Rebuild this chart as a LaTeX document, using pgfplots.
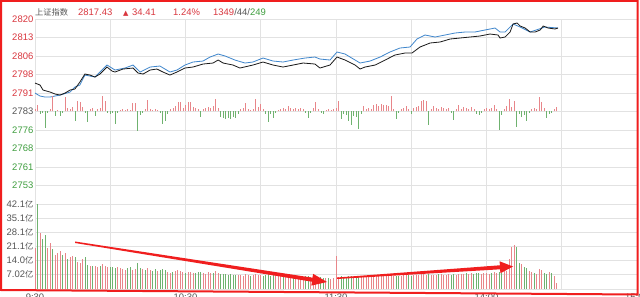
\documentclass[border=0pt]{standalone}
\usepackage{pgfplots}
\pgfplotsset{compat=1.18}
\usepackage{pgfplotstable}
\usepackage{fontspec}
\setmainfont{Liberation Sans}
\newfontfamily\cjk[Scale=0.87]{Noto Sans CJK SC}
\newfontfamily\dejavu{DejaVu Sans}
\definecolor{vred}{HTML}{E8868A}
\definecolor{vgreen}{HTML}{6FB26F}
\definecolor{tred}{HTML}{D9363E}
\definecolor{tgreen}{HTML}{3F9E3F}
\definecolor{tgray}{HTML}{555555}
\definecolor{lblue}{HTML}{3F86CC}
\definecolor{frame}{HTML}{F01E1E}
\definecolor{gridc}{HTML}{E2E2E2}

\pgfplotstableread{
t b
0 2
1 6
2 -3
3 -2
4 -17
5 -2
6 2
7 15
8 -5
9 1
10 -5
11 -2
12 14
13 3
14 2
15 4
16 -10
17 10
18 9
19 4
20 -2
21 -11
22 2
23 3
24 -5
25 2
26 3
27 15
28 10
29 -2
30 -3
31 -2
32 -13
33 -2
34 1
35 2
36 1
37 2
38 1
39 8
40 8
41 -20
42 -4
43 -2
44 2
45 11
46 2
47 1
48 2
49 1
50 -2
51 -13
52 -10
53 -3
54 2
55 3
56 5
57 9
58 9
59 3
60 6
61 9
62 9
63 4
64 3
65 2
66 -6
67 2
68 3
69 4
70 3
71 5
72 12
73 3
74 -6
75 -7
76 -8
77 -7
78 -8
79 -6
80 -7
81 -3
82 2
83 3
84 8
85 2
86 1
87 2
88 12
89 4
90 7
91 2
92 -3
93 -11
94 -3
95 -7
96 -2
97 1
98 2
99 3
100 2
101 5
102 3
103 2
104 3
105 2
106 3
107 2
108 -2
109 -7
110 -2
111 3
112 9
113 2
114 -2
115 -3
116 1
117 2
118 1
119 2
120 3
121 10
122 -8
123 -3
124 -4
125 -10
126 -14
127 -5
128 -6
129 -18
130 -3
131 5
132 2
133 3
134 2
135 6
136 7
137 5
138 7
139 6
140 6
141 5
142 15
143 2
144 -8
145 -2
146 2
147 3
148 5
149 2
150 -3
151 3
152 4
153 5
154 10
155 11
156 10
157 -14
158 2
159 5
160 3
161 2
162 4
163 3
164 2
165 3
166 -2
167 -9
168 2
169 6
170 2
171 4
172 3
173 2
174 4
175 2
176 -3
177 -4
178 -2
179 2
180 3
181 2
182 3
183 6
184 2
185 -19
186 -4
187 2
188 5
189 12
190 4
191 10
192 -16
193 -3
194 -6
195 -4
196 -10
197 -2
198 2
199 3
200 2
201 14
202 9
203 3
204 -7
205 -3
206 -2
207 2
208 4
}\breadth

\pgfplotstableread{
t v c
0 20.3 1
1 42.1 0
2 27.6 1
3 24.6 0
4 26.8 0
5 20.2 1
6 22.6 1
7 19.7 0
8 16.8 1
9 18.0 1
10 19.0 1
11 16.8 0
12 17.7 1
13 14.7 0
14 16.0 1
15 16.4 1
16 16.0 0
17 13.5 1
18 13.0 1
19 14.7 1
20 16.0 0
21 11.9 0
22 11.4 1
23 11.2 0
24 11.4 1
25 11.0 1
26 11.4 0
27 12.4 1
28 11.4 1
29 10.7 1
30 10.9 0
31 10.7 0
32 10.5 0
33 10.8 1
34 10.6 1
35 9.8 1
36 9.4 1
37 10.2 0
38 10.7 0
39 9.4 1
40 10.0 1
41 13.0 0
42 10.6 0
43 9.8 1
44 9.5 0
45 10.2 1
46 9.6 1
47 9.1 0
48 9.8 0
49 9.0 1
50 9.4 0
51 9.9 0
52 9.2 0
53 8.4 1
54 8.0 1
55 8.6 0
56 8.8 1
57 9.2 1
58 8.7 1
59 8.3 1
60 8.1 0
61 8.5 1
62 8.6 1
63 8.0 1
64 7.8 0
65 8.3 0
66 8.6 0
67 7.9 1
68 7.6 1
69 8.2 1
70 7.8 1
71 8.0 0
72 8.9 1
73 7.7 1
74 7.4 0
75 7.2 0
76 7.5 0
77 7.0 0
78 7.3 0
79 6.9 0
80 7.1 0
81 6.8 1
82 7.0 1
83 6.6 1
84 7.4 1
85 6.9 1
86 6.5 0
87 6.8 1
88 7.6 1
89 6.9 1
90 6.7 1
91 6.4 0
92 6.8 0
93 7.2 0
94 6.5 0
95 6.9 0
96 6.3 1
97 6.6 1
98 6.4 1
99 6.2 0
100 6.5 1
101 6.8 1
102 6.3 1
103 6.1 0
104 6.4 1
105 6.0 1
106 6.3 1
107 5.9 1
108 6.2 0
109 6.5 0
110 5.8 1
111 6.0 1
112 6.4 1
113 5.7 1
114 5.9 0
115 5.5 0
116 5.3 1
117 5.6 0
118 5.2 1
119 5.4 1
120 16.4 1
121 6.0 1
122 6.2 0
123 5.9 0
124 6.1 0
125 6.4 0
126 6.2 0
127 5.9 1
128 6.0 0
129 6.5 0
130 6.1 1
131 6.3 1
132 6.0 1
133 6.4 1
134 6.2 1
135 6.5 1
136 6.3 1
137 6.6 1
138 6.4 1
139 6.2 1
140 6.5 1
141 6.3 1
142 6.8 1
143 6.4 1
144 6.6 0
145 6.3 0
146 6.5 1
147 6.9 1
148 6.7 1
149 7.0 0
150 6.6 0
151 6.9 1
152 7.1 1
153 6.8 1
154 7.2 1
155 7.4 1
156 7.0 1
157 7.3 0
158 6.8 1
159 7.1 1
160 6.9 1
161 7.2 0
162 7.5 1
163 7.0 1
164 6.8 1
165 7.3 1
166 7.1 0
167 7.6 0
168 7.0 1
169 7.4 1
170 7.2 1
171 7.6 1
172 7.8 0
173 7.4 1
174 7.9 1
175 7.5 0
176 8.0 0
177 7.7 0
178 7.6 1
179 8.1 1
180 7.8 1
181 7.5 1
182 7.9 0
183 8.2 1
184 7.8 1
185 8.4 0
186 7.9 0
187 11.9 1
188 9.0 1
189 14.7 1
190 20.6 1
191 21.8 1
192 20.6 0
193 13.0 0
194 12.4 1
195 10.7 0
196 10.2 0
197 9.0 1
198 8.6 1
199 7.8 0
200 7.6 1
201 9.8 1
202 9.4 1
203 8.0 0
204 7.4 0
205 8.2 1
206 8.0 0
207 6.3 1
208 3.0 1
}\voltab

\begin{document}
\begin{tikzpicture}
\fill[white] (0bp,0bp) rectangle (640bp,297bp);
\pgfplotsset{
  every axis/.append style={
    scale only axis, anchor=south west,
    width=602bp, xmin=0, xmax=240,
    axis line style={draw=none},
    tick style={draw=none},
    ticklabel style={font=\fontsize{9.5}{10}\selectfont, text=tgray},
  }
}
% price panel
\begin{axis}[
  at={(35bp,93bp)}, height=185bp,
  ymin=2746.04, ymax=2820,
  xtick={0,30,...,240}, xticklabels={},
  ytick={2746.04,2753.436,2760.832,2768.228,2775.624,2783.02,2790.416,2797.812,2805.208,2812.604,2820},
  yticklabels={{},\textcolor{tgreen}{2753},\textcolor{tgreen}{2761},\textcolor{tgreen}{2768},\textcolor{tgreen}{2776},\textcolor{tgray}{2783},\textcolor{tred}{2791},\textcolor{tred}{2798},\textcolor{tred}{2806},\textcolor{tred}{2813},\textcolor{tred}{2820}},
  yticklabel style={anchor=east, inner sep=0pt, xshift=-1.5bp},
  grid=major, major grid style={gridc, line width=0.7bp},
]
\addplot[lblue, line width=0.8bp] coordinates {
(0,2790.4)(2.0,2789.2)(4.0,2788.8)(6.0,2788.8)(10.0,2789.6)(14.0,2790.8)(15.9,2792.8)(17.9,2793.6)(19.9,2797.6)(23.9,2796.8)(28.7,2801.6)(31.9,2799.6)(35.9,2800.4)(39.1,2801.6)(41.9,2798.8)(45.9,2800.8)(49.8,2801.2)(53.8,2798.8)(56.6,2799.6)(59.8,2801.6)(63.0,2802.8)(67.0,2803.2)(69.8,2804.8)(73.0,2806.0)(75.8,2805.2)(79.7,2803.6)(83.7,2802.4)(86.9,2802.8)(90.9,2804.4)(94.9,2803.2)(98.9,2802.8)(102.9,2803.6)(107.7,2804.4)(111.6,2804.8)(113.6,2804.0)(117.6,2803.6)(120.4,2806.8)(123.6,2806.0)(127.6,2803.6)(129.6,2802.4)(133.6,2803.2)(137.6,2804.8)(141.5,2806.8)(145.5,2808.4)(149.5,2808.8)(152.3,2812.0)(155.5,2813.6)(159.5,2812.8)(163.5,2813.6)(167.5,2814.4)(171.5,2814.8)(175.4,2814.8)(179.4,2815.6)(183.4,2816.4)(185.4,2814.8)(187.4,2814.8)(189.4,2816.8)(190.6,2818.0)(193.4,2816.8)(197.4,2814.8)(203.3,2816.8)(208.5,2816.4)
};
\addplot[black!90, line width=0.8bp] coordinates {
(0,2794.4)(2.0,2793.6)(3.2,2791.6)(6.0,2790.8)(8.0,2790.0)(10.0,2789.6)(12.0,2790.4)(14.0,2791.6)(15.9,2792.0)(17.9,2794.8)(19.9,2798.0)(21.9,2797.6)(23.9,2796.8)(25.9,2798.0)(28.7,2800.8)(30.7,2799.2)(31.9,2798.8)(35.1,2800.0)(39.1,2800.4)(41.1,2798.4)(43.1,2798.0)(45.9,2799.6)(48.6,2800.0)(51.0,2798.8)(53.8,2797.6)(56.6,2798.8)(59.8,2800.4)(63.0,2800.8)(67.0,2802.0)(71.0,2802.4)(73.0,2803.6)(75.0,2802.4)(78.9,2801.6)(81.7,2800.4)(86.9,2801.6)(90.9,2802.8)(94.9,2801.6)(98.9,2800.8)(102.9,2801.6)(106.9,2802.4)(111.6,2802.0)(113.6,2800.4)(117.6,2801.6)(120.4,2804.8)(123.6,2803.6)(127.6,2801.6)(129.6,2800.0)(131.6,2800.8)(135.6,2801.6)(139.6,2803.6)(143.5,2805.6)(147.5,2806.4)(150.3,2806.4)(153.5,2808.8)(157.5,2810.4)(161.5,2810.8)(165.5,2812.0)(169.5,2812.4)(173.4,2812.8)(177.4,2813.2)(181.4,2814.0)(184.6,2813.6)(185.4,2812.4)(187.4,2812.8)(189.4,2814.8)(190.6,2818.0)(192.2,2818.4)(193.4,2817.2)(195.4,2816.4)(197.4,2814.8)(199.4,2814.8)(201.4,2815.6)(202.6,2817.2)(204.5,2816.4)(207.3,2816.0)(208.5,2816.4)
};
\end{axis}
% breadth bars
\begin{axis}[
  at={(35bp,93bp)}, height=185bp, hide axis,
  ymin=-92.5, ymax=92.5,
]
\addplot[ycomb, draw=vred, line width=0.9bp] table[x=t, y expr={max(\thisrow{b},0)}] {\breadth};
\addplot[ycomb, draw=vgreen, line width=0.9bp] table[x=t, y expr={min(\thisrow{b},0)}] {\breadth};
\end{axis}
% volume panel
\begin{axis}[
  at={(35bp,8bp)}, height=85bp,
  ymin=0, ymax=42.12,
  xtick={0,30,...,240}, xticklabels={9:30,,10:30,,11:30,,14:00,,15:00},
  xticklabel style={anchor=north, inner sep=0pt, yshift=-5bp},
  ytick={0,7.02,14.04,21.06,28.08,35.1,42.12},
  yticklabels={{},7.02{\cjk 亿},14.0{\cjk 亿},21.1{\cjk 亿},28.1{\cjk 亿},35.1{\cjk 亿},42.1{\cjk 亿}},
  yticklabel style={anchor=east, inner sep=0pt, xshift=-1.5bp},
  grid=major, major grid style={gridc, line width=0.7bp},
]
\addplot[ycomb, draw=vred, line width=1bp] table[x=t, y expr={\thisrow{v}*\thisrow{c}}] {\voltab};
\addplot[ycomb, draw=vgreen, line width=1bp] table[x=t, y expr={\thisrow{v}*(1-\thisrow{c})}] {\voltab};
\end{axis}
\begin{scope}[x=1bp,y=1bp]
% title
\begin{scope}[every node/.style={anchor=base west, inner sep=0pt, font=\fontsize{9.5}{10}\selectfont}]
\node[text=tgray] at (35,281.5) {\cjk 上证指数};
\node[text=tred] at (78,281.5) {2817.43};
\node[text=tred] at (123,281.5) {\dejavu\fontsize{7}{8}\selectfont ▲};
\node[text=tred] at (132,281.5) {34.41};
\node[text=tred] at (173,281.5) {1.24\%};
\node at (213,281.5) {\textcolor{tred}{1349}\textcolor{tgray}{/44/}\textcolor{tgreen}{249}};
\end{scope}
% annotation arrows
\fill[frame] (75,55.5) -- (312.5,19.3) -- (313.1,23.2) -- (327,15) -- (311.3,11.4) -- (311.9,15.3) -- (75,54) -- cycle;
\fill[frame] (337,19.5) -- (499.9,31.7) -- (499.6,35.7) -- (513,30.5) -- (500.4,23.7) -- (500.1,27.7) -- (337,18) -- cycle;
% frame
\draw[frame, line width=2bp] (1,296) -- (637.5,296) -- (637.5,2.5) -- (1,7) -- cycle;
\end{scope}
\pgfresetboundingbox
\useasboundingbox (0bp,0bp) rectangle (640bp,297bp);
\end{tikzpicture}
\end{document}
